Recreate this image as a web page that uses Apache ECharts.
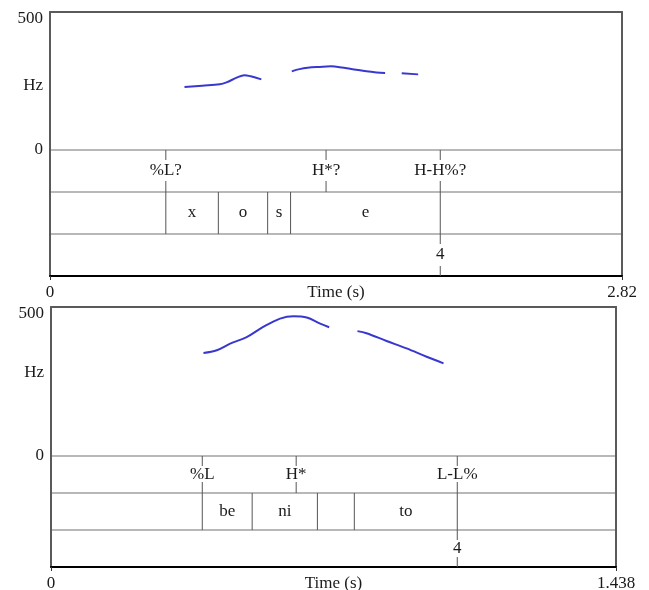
<!DOCTYPE html>
<html><head><meta charset="utf-8">
<script src="https://cdn.jsdelivr.net/npm/echarts@6/dist/echarts.min.js"></script>
<style>html,body{margin:0;padding:0;background:#fff}#c{width:649px;height:590px}</style>
</head><body><div id="c"></div>
<script>
// ---------- Panel 1 data ----------
const p1Duration = 2.82;
const p1HzMax = 500;
const p1PitchA = [[0.663,228],[0.75,233],[0.837,238],[0.87,245],[0.92,262],[0.958,271],[0.99,267],[1.042,256]];
const p1PitchB = [[1.192,285],[1.23,293],[1.27,298],[1.33,301],[1.385,303],[1.44,299],[1.50,292],[1.56,285],[1.61,281],[1.652,279]];
const p1PitchC = [[1.734,278],[1.815,274]];
const p1ToneTimes = [0.571, 1.361, 1.924];
const p1ToneLabels = ['%L?', 'H*?', 'H-H%?'];
const p1WordBounds = [0.571, 0.830, 1.073, 1.186, 1.924];
const p1Words = ['x', 'o', 's', 'e'];
const p1BreakTimes = [1.924];
const p1BreakLabels = ['4'];

// ---------- Panel 2 data ----------
const p2Duration = 1.438;
const p2HzMax = 500;
const p2PitchA = [[0.388,346],[0.422,355],[0.456,377],[0.498,399],[0.540,433],[0.583,461],[0.617,469],[0.651,465],[0.685,444],[0.708,432]];
const p2PitchB = [[0.780,419],[0.803,412],[0.854,386],[0.905,361],[0.956,333],[0.999,311]];
const p2ToneTimes = [0.385, 0.624, 1.034];
const p2ToneLabels = ['%L', 'H*', 'L-L%'];
const p2WordBounds = [0.385, 0.512, 0.678, 0.772, 1.034];
const p2Words = ['be', 'ni', '', 'to'];
const p2BreakTimes = [1.034];
const p2BreakLabels = ['4'];

// ---------- styling ----------
const FONT = '"Liberation Serif", "Times New Roman", serif';
const FS = 17;
const TXT = '#1a1a1a';
const FRAME = '#5a5a5a';
const SEP = '#a0a0a0';
const BOUND = '#555';
const PITCH = '#3838d0';

const chart = echarts.init(document.getElementById('c'), null, {renderer: 'canvas'});

function pitchX(grid, max) {
  return {gridIndex: grid, type: 'value', min: 0, max: max, position: 'top',
    axisLine: {show: true, onZero: false, lineStyle: {color: FRAME, width: 2}},
    axisTick: {show: false}, axisLabel: {show: false}, splitLine: {show: false}};
}
function tierX(grid, max) {
  return {gridIndex: grid, type: 'value', min: 0, max: max, position: 'bottom',
    axisLine: {show: true, onZero: false, lineStyle: {color: '#000', width: 2}},
    axisTick: {show: true, length: 4, customValues: [0, max], lineStyle: {color: '#333'}},
    axisLabel: {show: true, customValues: [0, max], margin: 8, fontFamily: FONT, fontSize: FS, color: TXT,
      formatter: v => String(v)},
    splitLine: {show: false},
    name: 'Time (s)', nameLocation: 'middle', nameGap: 8, nameMoveOverlap: false,
    nameTextStyle: {fontFamily: FONT, fontSize: FS, color: TXT}};
}
function pitchYLeft(grid, max, namePad) {
  return {gridIndex: grid, type: 'value', min: 0, max: max, interval: max, position: 'left',
    axisLine: {show: true, onZero: false, lineStyle: {color: FRAME, width: 2}},
    axisTick: {show: false}, splitLine: {show: false},
    axisLabel: {show: true, margin: 7,
      formatter: v => v === max ? '{a|' + v + '}' : '{b|' + v + '}',
      rich: {a: {padding: [14, 0, 0, 0], fontFamily: FONT, fontSize: FS, color: TXT},
             b: {fontFamily: FONT, fontSize: FS, color: TXT}}},
    name: '{h|Hz}', nameLocation: 'middle', nameRotate: 0, nameGap: 7, nameMoveOverlap: false,
    nameTextStyle: {fontFamily: FONT, fontSize: FS, color: TXT,
      rich: {h: {padding: namePad, fontFamily: FONT, fontSize: FS, color: TXT}}}};
}
function sideY(grid, max, pos) {
  return {gridIndex: grid, type: 'value', min: 0, max: max, position: pos,
    axisLine: {show: true, onZero: false, lineStyle: {color: FRAME, width: 2}},
    axisTick: {show: false}, axisLabel: {show: false}, splitLine: {show: false}};
}
function tierYLeft(grid) {
  return {gridIndex: grid, type: 'value', min: 0, max: 3, interval: 1, position: 'left',
    axisLine: {show: true, onZero: false, lineStyle: {color: FRAME, width: 2}},
    axisTick: {show: false}, axisLabel: {show: false},
    splitLine: {show: true, showMinLine: false, lineStyle: {color: SEP, width: 1.5}}};
}

function pitchSeries(xi, yi, data) {
  return {type: 'line', xAxisIndex: xi, yAxisIndex: yi, data: data, smooth: 0.35,
    showSymbol: false, symbol: 'none', lineStyle: {color: PITCH, width: 2}, z: 5, silent: true};
}
function tonesSeries(xi, yi, times, labels) {
  return {type: 'custom', xAxisIndex: xi, yAxisIndex: yi, data: times.map(t => [t]), silent: true, z: 4,
    renderItem: function (params, api) {
      const t = api.value(0);
      const top = api.coord([t, 3]);
      const bot = api.coord([t, 2]);
      const mid = api.coord([t, 2.5]);
      return {type: 'group', children: [
        {type: 'line', shape: {x1: top[0], y1: top[1], x2: top[0], y2: top[1] + 10}, style: {stroke: BOUND, lineWidth: 1}},
        {type: 'line', shape: {x1: bot[0], y1: bot[1] - 11, x2: bot[0], y2: bot[1]}, style: {stroke: BOUND, lineWidth: 1}},
        {type: 'text', style: {text: labels[params.dataIndex], x: mid[0], y: mid[1], align: 'center', verticalAlign: 'middle',
          font: FS + 'px ' + FONT, fill: TXT}}
      ]};
    }};
}
function boundsSeries(xi, yi, bounds) {
  return {type: 'custom', xAxisIndex: xi, yAxisIndex: yi, data: bounds.map(t => [t]), silent: true, z: 4,
    renderItem: function (params, api) {
      const t = api.value(0);
      const a = api.coord([t, 2]);
      const b = api.coord([t, 1]);
      return {type: 'line', shape: {x1: a[0], y1: a[1], x2: b[0], y2: b[1]}, style: {stroke: BOUND, lineWidth: 1}};
    }};
}
function wordsSeries(xi, yi, bounds, words) {
  const mids = words.map((w, i) => [(bounds[i] + bounds[i + 1]) / 2]);
  return {type: 'custom', xAxisIndex: xi, yAxisIndex: yi, data: mids, silent: true, z: 4,
    renderItem: function (params, api) {
      const p = api.coord([api.value(0), 1.5]);
      return {type: 'text', style: {text: words[params.dataIndex], x: p[0], y: p[1], align: 'center', verticalAlign: 'middle',
        font: FS + 'px ' + FONT, fill: TXT}};
    }};
}
function breaksSeries(xi, yi, times, labels) {
  return {type: 'custom', xAxisIndex: xi, yAxisIndex: yi, data: times.map(t => [t]), silent: true, z: 4,
    renderItem: function (params, api) {
      const t = api.value(0);
      const top = api.coord([t, 1]);
      const bot = api.coord([t, 0]);
      const mid = api.coord([t, 0.5]);
      return {type: 'group', children: [
        {type: 'line', shape: {x1: top[0], y1: top[1], x2: top[0], y2: top[1] + 10}, style: {stroke: BOUND, lineWidth: 1}},
        {type: 'line', shape: {x1: bot[0], y1: bot[1] - 10, x2: bot[0], y2: bot[1]}, style: {stroke: BOUND, lineWidth: 1}},
        {type: 'text', style: {text: labels[params.dataIndex], x: mid[0], y: mid[1], align: 'center', verticalAlign: 'middle',
          font: FS + 'px ' + FONT, fill: TXT}}
      ]};
    }};
}

const gridBase = {outerBoundsMode: 'none', containLabel: false};
const option = {
  animation: false,
  backgroundColor: '#fff',
  grid: [
    Object.assign({left: 50, right: 27, top: 12, height: 138}, gridBase),
    Object.assign({left: 50, right: 27, top: 150, height: 126}, gridBase),
    Object.assign({left: 51, right: 33, top: 307, height: 149}, gridBase),
    Object.assign({left: 51, right: 33, top: 456, height: 111}, gridBase)
  ],
  xAxis: [pitchX(0, p1Duration), tierX(1, p1Duration), pitchX(2, p2Duration), tierX(3, p2Duration)],
  yAxis: [
    pitchYLeft(0, p1HzMax, [9, 0, 0, 0]), sideY(0, p1HzMax, 'right'),
    tierYLeft(1), sideY(1, 3, 'right'),
    pitchYLeft(2, p2HzMax, [0, 0, 17, 0]), sideY(2, p2HzMax, 'right'),
    tierYLeft(3), sideY(3, 3, 'right')
  ],
  series: [
    pitchSeries(0, 0, p1PitchA), pitchSeries(0, 0, p1PitchB), pitchSeries(0, 0, p1PitchC),
    tonesSeries(1, 2, p1ToneTimes, p1ToneLabels),
    boundsSeries(1, 2, p1WordBounds),
    wordsSeries(1, 2, p1WordBounds, p1Words),
    breaksSeries(1, 2, p1BreakTimes, p1BreakLabels),
    pitchSeries(2, 4, p2PitchA), pitchSeries(2, 4, p2PitchB),
    tonesSeries(3, 6, p2ToneTimes, p2ToneLabels),
    boundsSeries(3, 6, p2WordBounds),
    wordsSeries(3, 6, p2WordBounds, p2Words),
    breaksSeries(3, 6, p2BreakTimes, p2BreakLabels)
  ]
};
chart.setOption(option);
</script></body></html>
